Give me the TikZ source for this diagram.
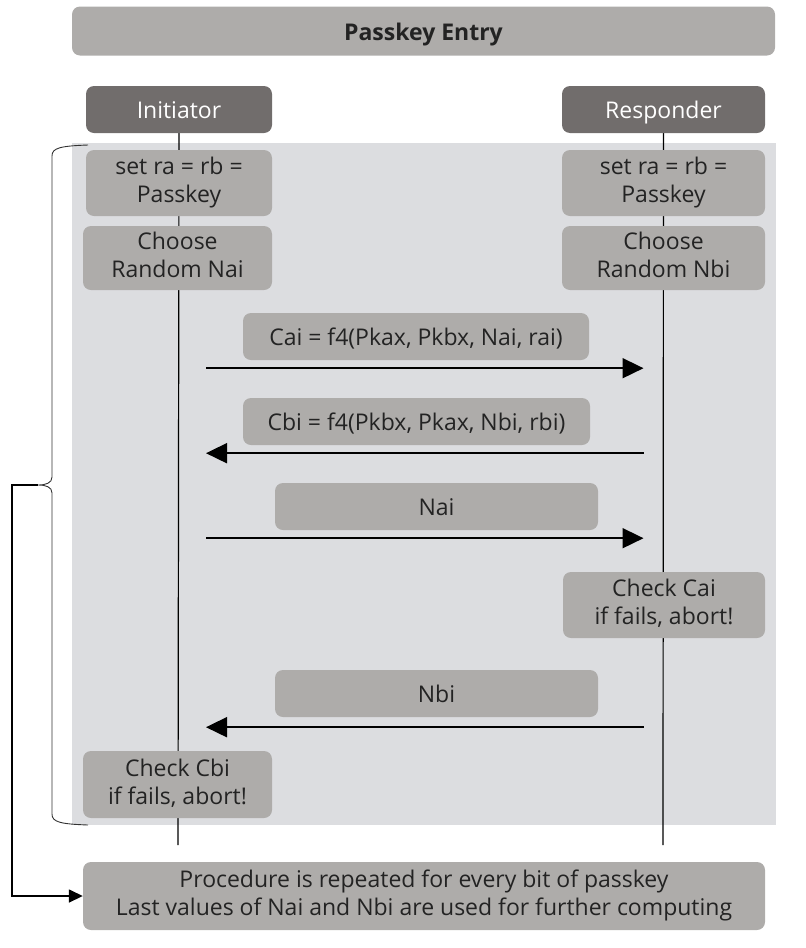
\documentclass[tikz,border=0pt]{standalone}
\usepackage{fontspec}
\setmainfont{Open Sans}
\usetikzlibrary{arrows.meta,calc,backgrounds}
\definecolor{boxgray}{RGB}{174,172,170}
\definecolor{headgray}{RGB}{113,109,108}
\definecolor{panelgray}{RGB}{220,221,224}
\definecolor{txtgray}{RGB}{35,35,35}
\newcommand{\bstrut}{\rule[-6pt]{0pt}{30pt}}
\begin{document}
\begin{tikzpicture}[x=1pt,y=-1pt]
\tikzstyle{box}=[fill=boxgray,rounded corners=8pt,text=txtgray,align=center,inner sep=0pt,font=\fontsize{23}{28}\selectfont,execute at begin node=\bstrut,execute at end node=\bstrut];
\tikzstyle{head}=[box,fill=headgray,text=white];
\tikzstyle{life}=[line width=1.2pt,black];
\tikzstyle{msg}=[line width=1.8pt,-{Triangle[length=21pt,width=20pt]}];
\tikzstyle{brc}=[line width=0.9pt,black!80];
\tikzstyle{ret}=[line width=1.6pt,-{Triangle[length=14pt,width=13pt]}];
\useasboundingbox (0,0) rectangle (806,948);
\node [box,minimum width=703,minimum height=49,font=\fontsize{23}{28}\selectfont\bfseries] (title) at (423.5,31) {Passkey Entry};
\node [head,minimum width=186,minimum height=47] (ini) at (179,109.5) {Initiator};
\node [head,minimum width=203,minimum height=47] (res) at (663.5,109.5) {Responder};
\node [box,minimum width=186,minimum height=66] (seta) at (179,183) {set ra = rb =\\Passkey};
\node [box,minimum width=203,minimum height=66] (setb) at (663.5,183) {set ra = rb =\\Passkey};
\node [box,minimum width=189,minimum height=64] (choa) at (177.5,258) {Choose\\Random Nai};
\node [box,minimum width=203,minimum height=64] (chob) at (663.5,258) {Choose\\Random Nbi};
\node [box,minimum width=346,minimum height=47] (cai) at (416,336.5) {Cai = f4(Pkax, Pkbx, Nai, rai)};
\node [box,minimum width=347,minimum height=47] (cbi) at (416.5,421.5) {Cbi = f4(Pkbx, Pkax, Nbi, rbi)};
\node [box,minimum width=323,minimum height=47] (nai) at (436.5,506.5) {Nai};
\node [box,minimum width=202,minimum height=66] (chka) at (664,605) {Check Cai\\if fails, abort!};
\node [box,minimum width=323,minimum height=47] (nbi) at (436.5,693.5) {Nbi};
\node [box,minimum width=189,minimum height=67] (chkb) at (177.5,784.5) {Check Cbi\\if fails, abort!};
\node [box,minimum width=682,minimum height=68] (proc) at (424,896) {Procedure is repeated for every bit of passkey\\Last values of Nai and Nbi are used for further computing};
\coordinate (iniend) at (178,845);
\coordinate (resend) at (663,845);
\begin{pgfonlayer}{background}
\fill [panelgray] (72,143) rectangle (776,825);
\draw [life] (ini.south) -- (iniend);
\draw [life] (res.south) -- (resend);
\end{pgfonlayer}
% messages
\draw [msg] ($(ini.south |- cai.south)+(27,8)$) -- ($(res.south |- cai.south)+(-20,8)$);
\draw [msg] ($(res.south |- cbi.south)+(-20,8)$) -- ($(ini.south |- cbi.south)+(27,8)$);
\draw [msg] ($(ini.south |- nai.south)+(27,8)$) -- ($(res.south |- nai.south)+(-20,8)$);
\draw [msg] ($(res.south |- nbi.south)+(-20,10)$) -- ($(ini.south |- nbi.south)+(27,10)$);
% repeat brace
\coordinate (cusp) at (38,485);
\coordinate (loop) at (12,485);
\draw [brc] (88,145) .. controls (60,146) and (52,148) .. (52,156) -- (52,477) .. controls (52,483) and (46,485) .. (cusp) .. controls (46,485) and (52,487) .. (52,493) -- (52,814) .. controls (52,822) and (60,824) .. (88,825);
\draw [ret] (cusp) -- (loop) |- (proc.west);
\end{tikzpicture}
\end{document}
